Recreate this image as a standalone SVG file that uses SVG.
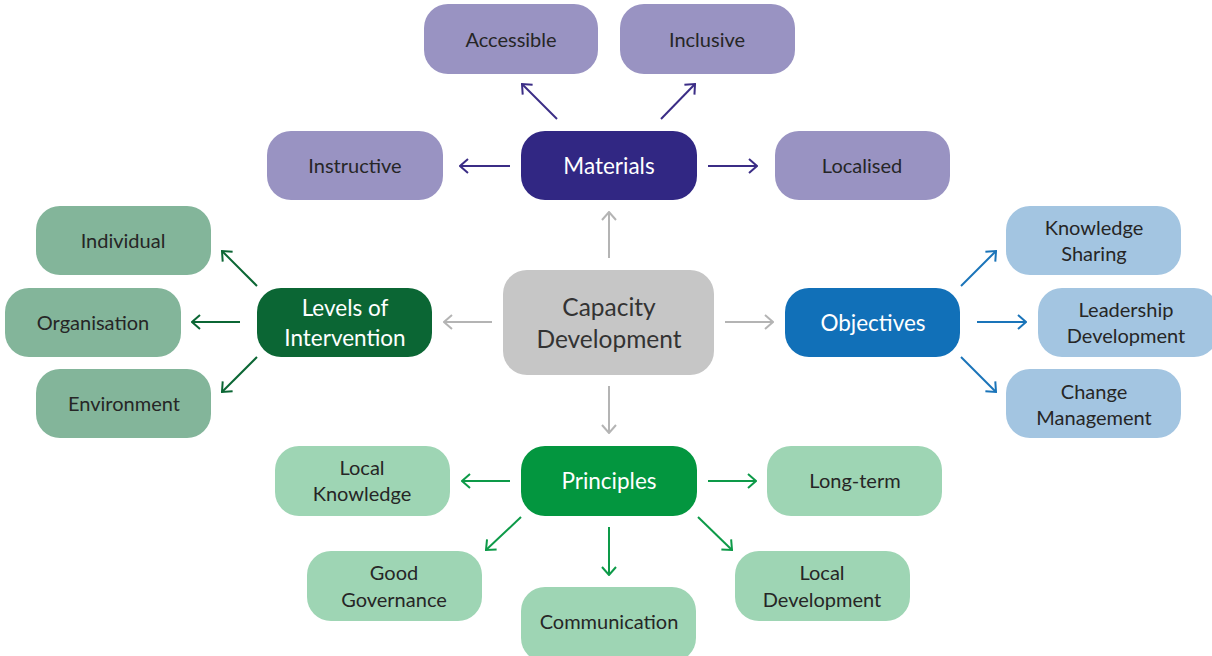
<svg xmlns="http://www.w3.org/2000/svg" width="1212" height="656" viewBox="0 0 1212 656">
  <defs>
    <style>
      .box { rx: 24px; ry: 24px; }
      .t { font-family: Lato, "Open Sans", "Liberation Sans", sans-serif; font-size: 20px; fill: #262626; text-anchor: middle; dominant-baseline: central; }
      .hub { font-size: 22.5px; fill: #ffffff; }
      .ctr { font-size: 24.5px; fill: #333333; }
      .mat-leaf { fill: #9993c2; }
      .lvl-leaf { fill: #83b59a; }
      .obj-leaf { fill: #a3c5e1; }
      .pri-leaf { fill: #9ed5b4; }
      .link { fill: none; stroke-width: 2; }
      .l-gray { stroke: #b4b4b4; marker-end: url(#ah-gray); }
      .l-mat { stroke: #3b2d86; marker-end: url(#ah-mat); }
      .l-lvl { stroke: #0b6634; marker-end: url(#ah-lvl); }
      .l-obj { stroke: #1a74b9; marker-end: url(#ah-obj); }
      .l-pri { stroke: #0d9a48; marker-end: url(#ah-pri); }
    </style>
    <marker id="ah-gray" viewBox="0 0 10 16" refX="9" refY="8" markerWidth="10" markerHeight="16" markerUnits="userSpaceOnUse" orient="auto">
      <path d="M1,1 L9,8 L1,15" fill="none" stroke="#b4b4b4" stroke-width="2"/>
    </marker>
    <marker id="ah-mat" viewBox="0 0 10 16" refX="9" refY="8" markerWidth="10" markerHeight="16" markerUnits="userSpaceOnUse" orient="auto">
      <path d="M1,1 L9,8 L1,15" fill="none" stroke="#3b2d86" stroke-width="2"/>
    </marker>
    <marker id="ah-lvl" viewBox="0 0 10 16" refX="9" refY="8" markerWidth="10" markerHeight="16" markerUnits="userSpaceOnUse" orient="auto">
      <path d="M1,1 L9,8 L1,15" fill="none" stroke="#0b6634" stroke-width="2"/>
    </marker>
    <marker id="ah-obj" viewBox="0 0 10 16" refX="9" refY="8" markerWidth="10" markerHeight="16" markerUnits="userSpaceOnUse" orient="auto">
      <path d="M1,1 L9,8 L1,15" fill="none" stroke="#1a74b9" stroke-width="2"/>
    </marker>
    <marker id="ah-pri" viewBox="0 0 10 16" refX="9" refY="8" markerWidth="10" markerHeight="16" markerUnits="userSpaceOnUse" orient="auto">
      <path d="M1,1 L9,8 L1,15" fill="none" stroke="#0d9a48" stroke-width="2"/>
    </marker>
  </defs>

  <rect width="1212" height="656" fill="#ffffff"/>

  <!-- connectors -->
  <g id="connectors">
    <line class="link l-gray" x1="609" y1="258" x2="609" y2="212"/>
    <line class="link l-gray" x1="492" y1="322" x2="444" y2="322"/>
    <line class="link l-gray" x1="725" y1="322" x2="773" y2="322"/>
    <line class="link l-gray" x1="609" y1="386" x2="609" y2="433"/>

    <line class="link l-mat" x1="510" y1="166" x2="460" y2="166"/>
    <line class="link l-mat" x1="708" y1="166" x2="757" y2="166"/>
    <line class="link l-mat" x1="557" y1="119" x2="522" y2="84"/>
    <line class="link l-mat" x1="661" y1="119" x2="695" y2="84"/>

    <line class="link l-lvl" x1="257" y1="286" x2="222" y2="251"/>
    <line class="link l-lvl" x1="240" y1="322" x2="192" y2="322"/>
    <line class="link l-lvl" x1="257" y1="357" x2="222" y2="392"/>

    <line class="link l-obj" x1="961" y1="286" x2="996" y2="251"/>
    <line class="link l-obj" x1="977" y1="322" x2="1026" y2="322"/>
    <line class="link l-obj" x1="961" y1="357" x2="996" y2="392"/>

    <line class="link l-pri" x1="510" y1="481" x2="462" y2="481"/>
    <line class="link l-pri" x1="708" y1="481" x2="756" y2="481"/>
    <line class="link l-pri" x1="521" y1="517" x2="486" y2="550"/>
    <line class="link l-pri" x1="609" y1="527" x2="609" y2="575"/>
    <line class="link l-pri" x1="698" y1="517" x2="732" y2="550"/>
  </g>

  <!-- centre -->
  <g id="capacity-development">
    <rect class="box" x="503" y="270" width="211" height="105" fill="#c6c6c6"/>
    <text class="t ctr" x="609" y="306">Capacity</text>
    <text class="t ctr" x="609" y="338">Development</text>
  </g>

  <!-- materials branch -->
  <g id="materials">
    <rect class="box" x="521" y="131" width="176" height="69" fill="#312783"/>
    <text class="t hub" x="609" y="165">Materials</text>
  </g>
  <g id="accessible">
    <rect class="box mat-leaf" x="424" y="4" width="174" height="70"/>
    <text class="t" x="511" y="39">Accessible</text>
  </g>
  <g id="inclusive">
    <rect class="box mat-leaf" x="620" y="4" width="175" height="70"/>
    <text class="t" x="707" y="39">Inclusive</text>
  </g>
  <g id="instructive">
    <rect class="box mat-leaf" x="267" y="131" width="176" height="69"/>
    <text class="t" x="355" y="165">Instructive</text>
  </g>
  <g id="localised">
    <rect class="box mat-leaf" x="775" y="131" width="175" height="69"/>
    <text class="t" x="862" y="165">Localised</text>
  </g>

  <!-- levels of intervention branch -->
  <g id="levels-of-intervention">
    <rect class="box" x="257" y="288" width="175" height="69" fill="#0b6634"/>
    <text class="t hub" x="345" y="307">Levels of</text>
    <text class="t hub" x="345" y="337">Intervention</text>
  </g>
  <g id="individual">
    <rect class="box lvl-leaf" x="36" y="206" width="175" height="69"/>
    <text class="t" x="123" y="240">Individual</text>
  </g>
  <g id="organisation">
    <rect class="box lvl-leaf" x="5" y="288" width="176" height="69"/>
    <text class="t" x="93" y="322">Organisation</text>
  </g>
  <g id="environment">
    <rect class="box lvl-leaf" x="36" y="369" width="175" height="69"/>
    <text class="t" x="124" y="403">Environment</text>
  </g>

  <!-- objectives branch -->
  <g id="objectives">
    <rect class="box" x="785" y="288" width="175" height="69" fill="#1170b8"/>
    <text class="t hub" x="873" y="322">Objectives</text>
  </g>
  <g id="knowledge-sharing">
    <rect class="box obj-leaf" x="1006" y="206" width="175" height="69"/>
    <text class="t" x="1094" y="227">Knowledge</text>
    <text class="t" x="1094" y="253">Sharing</text>
  </g>
  <g id="leadership-development">
    <rect class="box obj-leaf" x="1038" y="288" width="180" height="69"/>
    <text class="t" x="1126" y="309">Leadership</text>
    <text class="t" x="1126" y="335">Development</text>
  </g>
  <g id="change-management">
    <rect class="box obj-leaf" x="1006" y="369" width="175" height="69"/>
    <text class="t" x="1094" y="391">Change</text>
    <text class="t" x="1094" y="417">Management</text>
  </g>

  <!-- principles branch -->
  <g id="principles">
    <rect class="box" x="521" y="446" width="176" height="70" fill="#03963f"/>
    <text class="t hub" x="609" y="480">Principles</text>
  </g>
  <g id="local-knowledge">
    <rect class="box pri-leaf" x="275" y="446" width="175" height="70"/>
    <text class="t" x="362" y="467">Local</text>
    <text class="t" x="362" y="493">Knowledge</text>
  </g>
  <g id="long-term">
    <rect class="box pri-leaf" x="767" y="446" width="175" height="70"/>
    <text class="t" x="855" y="480">Long-term</text>
  </g>
  <g id="good-governance">
    <rect class="box pri-leaf" x="307" y="551" width="175" height="70"/>
    <text class="t" x="394" y="572">Good</text>
    <text class="t" x="394" y="599">Governance</text>
  </g>
  <g id="communication">
    <rect class="box pri-leaf" x="521" y="587" width="175" height="75"/>
    <text class="t" x="609" y="621">Communication</text>
  </g>
  <g id="local-development">
    <rect class="box pri-leaf" x="735" y="551" width="175" height="70"/>
    <text class="t" x="822" y="572">Local</text>
    <text class="t" x="822" y="599">Development</text>
  </g>
</svg>
